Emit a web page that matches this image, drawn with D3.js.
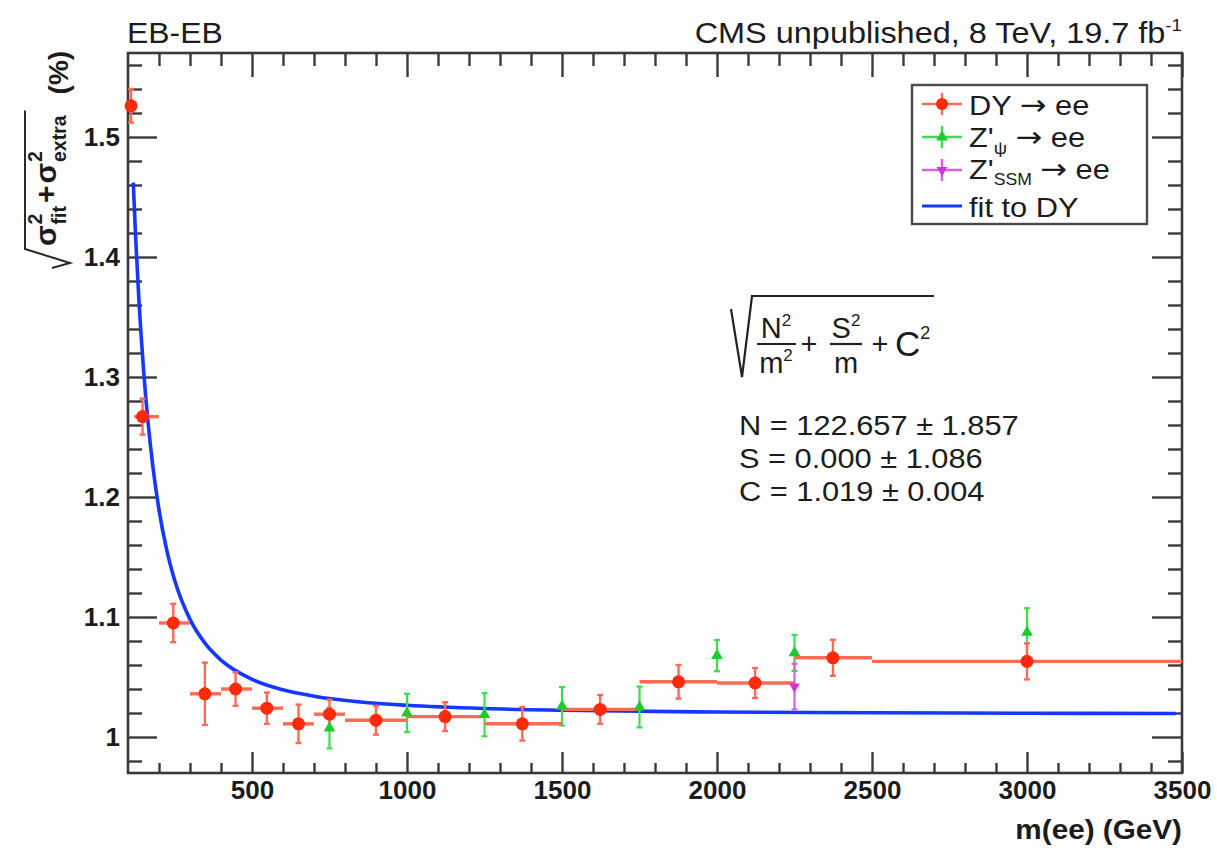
<!DOCTYPE html>
<html>
<head>
<meta charset="utf-8">
<script src="https://cdn.jsdelivr.net/npm/d3@7"></script>
<style>
  html, body { margin: 0; padding: 0; background: #ffffff; }
  svg { display: block; }
  text { font-family: "Liberation Sans", Arial, Helvetica, sans-serif; fill: #1c1c1c; }
  .arrow { font-family: "DejaVu Sans", sans-serif; }
</style>
</head>
<body>
<svg id="chart" width="1217" height="848"></svg>
<script>
// ---------------- data ----------------
// Drell-Yan -> ee  (point x, bin low edge, bin high edge, value, error)
const dyMass   = [110, 147, 246, 348, 447, 548, 650, 750, 900, 1123, 1372, 1623, 1876, 2123, 2374, 3000];
const dyBinLo  = [100, 120, 200, 300, 400, 500, 600, 700, 800, 1000, 1250, 1500, 1750, 2000, 2250, 2500];
const dyBinHi  = [120, 200, 300, 400, 500, 600, 700, 800, 1000, 1250, 1500, 1750, 2000, 2250, 2500, 3500];
const dyValue  = [1.526, 1.267, 1.095, 1.036, 1.040, 1.024, 1.011, 1.019, 1.014, 1.017, 1.011, 1.023, 1.046, 1.045, 1.066, 1.063];
const dyError  = [0.014, 0.015, 0.016, 0.026, 0.014, 0.013, 0.016, 0.012, 0.012, 0.012, 0.014, 0.012, 0.014, 0.0125, 0.015, 0.015];

// Z'_psi -> ee
const zpsiMass  = [750, 1000, 1250, 1500, 1750, 2000, 2250, 3000];
const zpsiValue = [1.0075, 1.020, 1.0186, 1.0256, 1.025, 1.0678, 1.0701, 1.0873];
const zpsiError = [0.017, 0.016, 0.018, 0.016, 0.017, 0.013, 0.015, 0.020];

// Z'_SSM -> ee
const zssmMass  = [2250];
const zssmValue = [1.042];
const zssmError = [0.019];

// fit to DY (curve)
const fitMass  = [117, 125, 135, 150, 165, 180, 200, 225, 250, 300, 350, 400, 500, 600, 700, 850, 1000, 1250, 1500, 2000, 2500, 3000, 3480];
const fitValue = [1.462, 1.4147, 1.3652, 1.3065, 1.2613, 1.2258, 1.1893, 1.1557, 1.1310, 1.0980, 1.0776, 1.0641, 1.0481, 1.0393, 1.0340, 1.0292, 1.0264, 1.0237, 1.0223, 1.0208, 1.0202, 1.0198, 1.0196];

// axes
const xDomain = [100, 3500];
const yDomain = [0.97, 1.57];
const xMajorTicks = [500, 1000, 1500, 2000, 2500, 3000, 3500];
const xTickLabels = ["500", "1000", "1500", "2000", "2500", "3000", "3500"];
const yMajorTicks = [1.0, 1.1, 1.2, 1.3, 1.4, 1.5];
const yTickLabels = ["1", "1.1", "1.2", "1.3", "1.4", "1.5"];

// fit parameters text
const fitParamLines = ["N = 122.657 \u00b1 1.857", "S = 0.000 \u00b1 1.086", "C = 1.019 \u00b1 0.004"];

// ---------------- drawing ----------------
const svg = d3.select("#chart");
const PL = 128, PR = 1182, PT = 53, PB = 773;
const SX = 1.1; // horizontal stretch of the original picture's text

const x = d3.scaleLinear().domain(xDomain).range([PL, PR]);
const y = d3.scaleLinear().domain(yDomain).range([PB, PT]);

const axisColor = "#3a3a3a";
const RED = "#ff2a0a", RED_BAR = "#ff6a55";
const GREEN = "#1ccc2e", GREEN_BAR = "#3fdc50";
const MAG = "#cc33dd", MAG_BAR = "#d860e6";
const BLUE = "#1538ff";

svg.append("rect").attr("width", 1217).attr("height", 848).attr("fill", "#fff");

function stretchedText(parent, str, px, py, size, anchor, weight) {
  const g = parent.append("g").attr("transform", `translate(${px},${py}) scale(${SX},1)`);
  const t = g.append("text").attr("x", 0).attr("y", 0)
    .attr("font-size", size).attr("text-anchor", anchor || "start")
    .attr("font-weight", weight || "normal").text(str);
  return t;
}

// minor tick positions
const xMinor = d3.range(200, 3500, 100).filter(v => v % 500 !== 0);
const yMinor = d3.range(0, 30).map(i => +(0.98 + i * 0.02).toFixed(2)).filter(v => v < 1.57 && Math.abs(v * 10 - Math.round(v * 10)) > 1e-6);

function styleAxis(g) {
  g.select(".domain").remove();
  g.selectAll(".tick line").attr("stroke", axisColor).attr("stroke-width", 2.4);
  g.selectAll("text").attr("font-family", "Liberation Sans, Arial, sans-serif")
    .attr("font-weight", "bold").attr("font-size", 26).attr("fill", "#1c1c1c");
}

// bottom
svg.append("g").attr("transform", `translate(0,${PB})`)
  .call(d3.axisBottom(x).tickValues(xMajorTicks).tickSizeInner(-21).tickSizeOuter(0).tickPadding(8)
    .tickFormat((d, i) => xTickLabels[i])).call(styleAxis);
svg.append("g").attr("transform", `translate(0,${PB})`)
  .call(d3.axisBottom(x).tickValues(xMinor).tickSizeInner(-10).tickSizeOuter(0).tickFormat("")).call(styleAxis);
// top
svg.append("g").attr("transform", `translate(0,${PT})`)
  .call(d3.axisTop(x).tickValues(xMajorTicks).tickSizeInner(-24).tickSizeOuter(0).tickFormat("")).call(styleAxis);
svg.append("g").attr("transform", `translate(0,${PT})`)
  .call(d3.axisTop(x).tickValues(xMinor).tickSizeInner(-13).tickSizeOuter(0).tickFormat("")).call(styleAxis);
// left
svg.append("g").attr("transform", `translate(${PL},0)`)
  .call(d3.axisLeft(y).tickValues(yMajorTicks).tickSizeInner(-29).tickSizeOuter(0).tickPadding(8)
    .tickFormat((d, i) => yTickLabels[i])).call(styleAxis);
svg.append("g").attr("transform", `translate(${PL},0)`)
  .call(d3.axisLeft(y).tickValues(yMinor).tickSizeInner(-14).tickSizeOuter(0).tickFormat("")).call(styleAxis);
// right
svg.append("g").attr("transform", `translate(${PR},0)`)
  .call(d3.axisRight(y).tickValues(yMajorTicks).tickSizeInner(-30).tickSizeOuter(0).tickFormat("")).call(styleAxis);
svg.append("g").attr("transform", `translate(${PR},0)`)
  .call(d3.axisRight(y).tickValues(yMinor).tickSizeInner(-14).tickSizeOuter(0).tickFormat("")).call(styleAxis);

// frame
svg.append("rect").attr("x", PL).attr("y", PT).attr("width", PR - PL).attr("height", PB - PT)
  .attr("fill", "none").attr("stroke", axisColor).attr("stroke-width", 2.6);

// x-axis title
stretchedText(svg, "m(ee) (GeV)", PR, 839, 27, "end", "bold");

// top labels
stretchedText(svg, "EB-EB", 127, 43, 29, "start");
{
  const g = svg.append("g").attr("transform", `translate(${PR},43) scale(${SX},1)`);
  const t = g.append("text").attr("text-anchor", "end").attr("font-size", 29.5);
  t.append("tspan").text("CMS unpublished, 8 TeV, 19.7 fb");
  t.append("tspan").attr("font-size", 17).attr("dy", -12).text("-1");
}

// y-axis title (rotated) with radical
{
  const g = svg.append("g").attr("transform", "rotate(-90)");
  const base = 56;
  let u = -246;
  function piece(str, uu, v, size) {
    const t = g.append("text").attr("x", uu).attr("y", v).attr("font-size", size)
      .attr("font-weight", "bold").text(str);
    return t.node().getComputedTextLength();
  }
  u += piece("\u03c3", u, base, 30) + 1;
  let w1 = piece("2", u, base - 14, 19.5);
  let w2 = piece("fit", u, base + 10, 19.5);
  u += Math.max(w1, w2) + 3;
  u += piece("+", u, base, 30) + 2;
  u += piece("\u03c3", u, base, 30) + 1;
  w1 = piece("2", u, base - 14, 19.5);
  w2 = piece("extra", u, base + 10, 19.5);
  u += Math.max(w1, w2) + 5;
  const radEnd = u;
  u += 16;
  piece("(%)", u, 68, 28);
  // radical sign (screen x = v, screen y = -u)
  g.append("path")
    .attr("d", `M${-268},${52} L${-263},${70} L${-249},${25} L${radEnd},${25}`)
    .attr("fill", "none").attr("stroke", "#2a2a2a").attr("stroke-width", 2);
}

// fit curve
const fitData = fitMass.map((m, i) => ({ m, v: fitValue[i] }));
svg.append("path").datum(fitData)
  .attr("d", d3.line().x(d => x(d.m)).y(d => y(d.v)).curve(d3.curveMonotoneX))
  .attr("fill", "none").attr("stroke", BLUE).attr("stroke-width", 3.6);

// data sets
const dyData = dyMass.map((m, i) => ({ m, lo: dyBinLo[i], hi: dyBinHi[i], v: dyValue[i], e: dyError[i] }));
const zpsiData = zpsiMass.map((m, i) => ({ m, v: zpsiValue[i], e: zpsiError[i] }));
const zssmData = zssmMass.map((m, i) => ({ m, v: zssmValue[i], e: zssmError[i] }));

function drawVBars(data, color, width) {
  const g = svg.append("g").attr("stroke", color).attr("stroke-width", width).attr("fill", "none");
  data.forEach(d => {
    const xx = x(d.m), y1 = y(d.v + d.e), y2 = y(d.v - d.e);
    g.append("line").attr("x1", xx).attr("x2", xx).attr("y1", y1).attr("y2", y2);
    g.append("line").attr("x1", xx - 3).attr("x2", xx + 3).attr("y1", y1).attr("y2", y1);
    g.append("line").attr("x1", xx - 3).attr("x2", xx + 3).attr("y1", y2).attr("y2", y2);
  });
}
function drawHBars(data, color, width) {
  const g = svg.append("g").attr("stroke", color).attr("stroke-width", width).attr("fill", "none");
  data.forEach(d => {
    const yy = y(d.v);
    g.append("line").attr("x1", x(d.lo)).attr("x2", x(d.hi)).attr("y1", yy).attr("y2", yy);
  });
}

drawVBars(zpsiData, GREEN_BAR, 2.2);
drawVBars(zssmData, MAG_BAR, 2.2);
drawHBars(dyData, RED_BAR, 3.4);
drawVBars(dyData, RED_BAR, 2.4);

svg.append("g").selectAll("circle").data(dyData).join("circle")
  .attr("cx", d => x(d.m)).attr("cy", d => y(d.v)).attr("r", 6.5).attr("fill", RED);
svg.append("g").selectAll("path").data(zpsiData).join("path")
  .attr("transform", d => `translate(${x(d.m)},${y(d.v)})`)
  .attr("d", d3.symbol(d3.symbolTriangle, 60)).attr("fill", GREEN);
svg.append("g").selectAll("path").data(zssmData).join("path")
  .attr("transform", d => `translate(${x(d.m)},${y(d.v)}) rotate(180)`)
  .attr("d", d3.symbol(d3.symbolTriangle, 50)).attr("fill", MAG);

// legend
{
  const g = svg.append("g");
  g.append("rect").attr("x", 912).attr("y", 85).attr("width", 235).attr("height", 139)
    .attr("fill", "#fff").attr("stroke", "#4a4a4a").attr("stroke-width", 2.4);
  const rows = [104, 137, 170, 206];
  const mx = 942;
  // DY
  g.append("line").attr("x1", 922).attr("x2", 962).attr("y1", rows[0]).attr("y2", rows[0]).attr("stroke", RED_BAR).attr("stroke-width", 2.4);
  g.append("line").attr("x1", mx).attr("x2", mx).attr("y1", rows[0] - 11).attr("y2", rows[0] + 11).attr("stroke", RED_BAR).attr("stroke-width", 2.4);
  g.append("circle").attr("cx", mx).attr("cy", rows[0]).attr("r", 6).attr("fill", RED);
  // Zpsi
  g.append("line").attr("x1", 922).attr("x2", 962).attr("y1", rows[1]).attr("y2", rows[1]).attr("stroke", GREEN_BAR).attr("stroke-width", 2.4);
  g.append("line").attr("x1", mx).attr("x2", mx).attr("y1", rows[1] - 11).attr("y2", rows[1] + 11).attr("stroke", GREEN_BAR).attr("stroke-width", 2.4);
  g.append("path").attr("transform", `translate(${mx},${rows[1]})`).attr("d", d3.symbol(d3.symbolTriangle, 60)).attr("fill", GREEN);
  // Zssm
  g.append("line").attr("x1", 922).attr("x2", 962).attr("y1", rows[2]).attr("y2", rows[2]).attr("stroke", MAG_BAR).attr("stroke-width", 2.4);
  g.append("line").attr("x1", mx).attr("x2", mx).attr("y1", rows[2] - 11).attr("y2", rows[2] + 11).attr("stroke", MAG_BAR).attr("stroke-width", 2.4);
  g.append("path").attr("transform", `translate(${mx},${rows[2]}) rotate(180)`).attr("d", d3.symbol(d3.symbolTriangle, 50)).attr("fill", MAG);
  // fit
  g.append("line").attr("x1", 922).attr("x2", 962).attr("y1", rows[3]).attr("y2", rows[3]).attr("stroke", BLUE).attr("stroke-width", 3.2);

  const fs = 28;
  let t = stretchedText(g, "", 969, rows[0] + 11, fs);
  t.append("tspan").text("DY ");
  t.append("tspan").attr("class", "arrow").attr("font-size", 29).text("\u2192");
  t.append("tspan").text(" ee");
  t = stretchedText(g, "", 969, rows[1] + 10, fs);
  t.append("tspan").text("Z'");
  t.append("tspan").attr("font-size", 17).attr("dy", 7).text("\u03c8");
  t.append("tspan").attr("dy", -7).text(" ");
  t.append("tspan").attr("class", "arrow").attr("font-size", 29).text("\u2192");
  t.append("tspan").text(" ee");
  t = stretchedText(g, "", 969, rows[2] + 9, fs);
  t.append("tspan").text("Z'");
  t.append("tspan").attr("font-size", 16).attr("dy", 6).text("SSM");
  t.append("tspan").attr("dy", -6).text(" ");
  t.append("tspan").attr("class", "arrow").attr("font-size", 29).text("\u2192");
  t.append("tspan").text(" ee");
  stretchedText(g, "fit to DY", 969, rows[3] + 11, fs);
}

// formula annotation
{
  const g = svg.append("g");
  g.append("path").attr("d", "M731,309 L742,377 L752,296 L934,296")
    .attr("fill", "none").attr("stroke", "#222").attr("stroke-width", 2.2);
  function frac(cx, num, numSup, den, denSup, barL, barR) {
    let t = g.append("text").attr("x", cx).attr("y", 338).attr("text-anchor", "middle").attr("font-size", 29);
    t.append("tspan").text(num);
    if (numSup) t.append("tspan").attr("font-size", 17).attr("dy", -12).text(numSup);
    g.append("line").attr("x1", barL).attr("x2", barR).attr("y1", 344).attr("y2", 344).attr("stroke", "#222").attr("stroke-width", 2.2);
    t = g.append("text").attr("x", cx).attr("y", 373).attr("text-anchor", "middle").attr("font-size", 29);
    t.append("tspan").text(den);
    if (denSup) t.append("tspan").attr("font-size", 17).attr("dy", -12).text(denSup);
  }
  frac(776, "N", "2", "m", "2", 757, 796);
  g.append("text").attr("x", 809).attr("y", 354).attr("text-anchor", "middle").attr("font-size", 29).text("+");
  frac(846, "S", "2", "m", null, 830, 862);
  g.append("text").attr("x", 880).attr("y", 354).attr("text-anchor", "middle").attr("font-size", 29).text("+");
  const c = g.append("text").attr("x", 895).attr("y", 356).attr("font-size", 35);
  c.append("tspan").text("C");
  c.append("tspan").attr("font-size", 18).attr("dy", -17).text("2");

  fitParamLines.forEach((s, i) => stretchedText(g, s, 739, 435 + i * 33.2, 28));
}
</script>
</body>
</html>
